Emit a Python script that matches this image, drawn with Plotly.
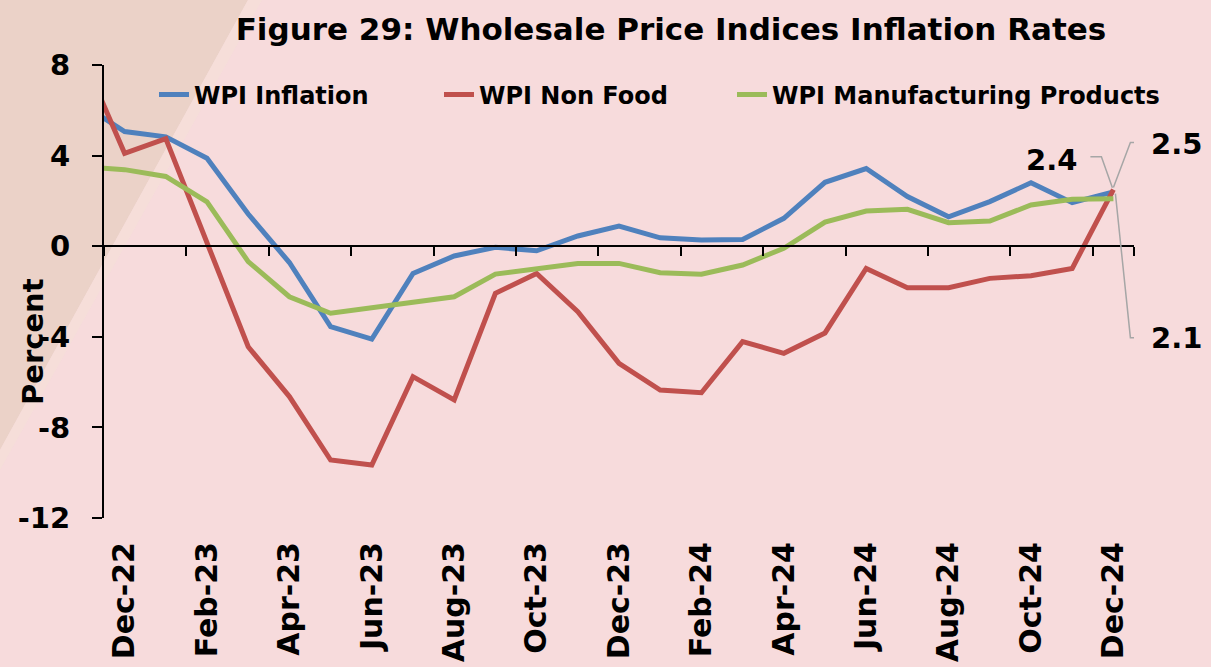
import plotly.graph_objects as go

# ---------------- data ----------------
months = ["Nov-22", "Dec-22", "Jan-23", "Feb-23", "Mar-23", "Apr-23", "May-23", "Jun-23",
          "Jul-23", "Aug-23", "Sep-23", "Oct-23", "Nov-23", "Dec-23", "Jan-24", "Feb-24",
          "Mar-24", "Apr-24", "May-24", "Jun-24", "Jul-24", "Aug-24", "Sep-24", "Oct-24",
          "Nov-24", "Dec-24"]
wpi_inflation = [6.24, 5.06, 4.83, 3.88, 1.42, -0.72, -3.55, -4.1, -1.2, -0.43, -0.05, -0.2,
                 0.45, 0.89, 0.37, 0.27, 0.3, 1.23, 2.82, 3.43, 2.19, 1.3, 1.97, 2.8, 1.92, 2.4]
wpi_nonfood = [8.3, 4.1, 4.75, 0.1, -4.44, -6.64, -9.44, -9.66, -5.76, -6.79, -2.08, -1.2,
               -2.89, -5.17, -6.35, -6.47, -4.21, -4.73, -3.83, -0.98, -1.83, -1.83, -1.42,
               -1.3, -0.98, 2.5]
wpi_manuf = [3.5, 3.38, 3.08, 1.96, -0.68, -2.23, -2.96, -2.7, -2.49, -2.23, -1.23, -1.0,
             -0.76, -0.76, -1.17, -1.24, -0.83, -0.09, 1.06, 1.55, 1.63, 1.04, 1.11, 1.82,
             2.07, 2.1]
tick_labels = months[1::2]          # Dec-22, Feb-23, ... Dec-24
y_ticks = [8, 4, 0, -4, -8, -12]
end_labels = ["2.4", "2.5", "2.1"]

series_names = ["WPI Inflation", "WPI Non Food", "WPI Manufacturing Products"]
series_vals = [wpi_inflation, wpi_nonfood, wpi_manuf]
colors = ["#4F81BD", "#C0504D", "#9BBB59"]
legend_widths = [240, 248, 400]

FONT = "DejaVu Sans"
BG = "#F7DBDC"
TAN = "#EBD2C8"

W, H = 1211, 667
ML, MR, MT, MB = 104, 77, 65, 149
PW, PH = W - ML - MR, H - MT - MB


def px(xp):
    return (xp - ML) / PW


def py(yp):
    return (H - MB - yp) / PH


fig = go.Figure()
for name, vals, col, lw in zip(series_names, series_vals, colors, legend_widths):
    fig.add_trace(go.Scatter(x=months, y=vals, mode="lines", name=name, legendwidth=lw,
                             line=dict(color=col, width=5), hoverinfo="x+y+name"))

# helper trace for the axis that crosses at zero (category ticks on boundaries)
fig.add_trace(go.Scatter(x=months, y=[None] * len(months), xaxis="x2", yaxis="y",
                         mode="lines", showlegend=False, hoverinfo="skip"))

# ---------------- end-point data labels with leader lines ----------------
last = months[-1]
label_specs = [
    # (value, text, path, xanchor, xshift, yshift)
    (wpi_inflation[-1], end_labels[0], "M-1,4 L-12,35 L-23,35", "right", -34, 32),
    (wpi_nonfood[-1], end_labels[1], "M0,2 L17,47 L28,47", "left", 36, 46),
    (wpi_manuf[-1], end_labels[2], "M2,5 L17,-139 L28,-139", "left", 36, -139),
]
shapes = []
annotations = []
for val, txt, path, xa, xs, ys in label_specs:
    shapes.append(dict(type="path", xref="x", yref="y", xsizemode="pixel", ysizemode="pixel",
                       xanchor=last, yanchor=val, path=path,
                       line=dict(color="#A6A6A6", width=1.5)))
    annotations.append(dict(x=last, y=val, xref="x", yref="y", text=txt, showarrow=False,
                            xanchor=xa, yanchor="middle", xshift=xs, yshift=ys,
                            font=dict(family=FONT, size=29, color="black", weight="bold")))

# decorative tan band in the top-left corner
shapes.insert(0, dict(type="path", xref="paper", yref="paper", layer="below",
                      path=f"M{px(0)},{py(0)} L{px(248)},{py(0)} L{px(0)},{py(450)} Z",
                      fillcolor=TAN, line=dict(width=0)))
shapes.insert(1, dict(type="path", xref="paper", yref="paper", layer="below",
                      path=f"M{px(248)},{py(0)} L{px(262)},{py(0)} L{px(0)},{py(470)} L{px(0)},{py(450)} Z",
                      fillcolor="rgba(245,222,216,0.8)", line=dict(width=0)))

# y-axis title (placed like the original, lower than centre)
annotations.append(dict(x=px(33), y=py(342), xref="paper", yref="paper", text="Percent",
                        showarrow=False, textangle=-90, xanchor="center", yanchor="middle",
                        font=dict(family=FONT, size=29, color="black", weight="bold")))

fig.update_layout(
    width=W, height=H,
    margin=dict(l=ML, r=MR, t=MT, b=MB, autoexpand=False),
    paper_bgcolor=BG, plot_bgcolor="rgba(0,0,0,0)",
    font=dict(family=FONT, color="black"),
    title=dict(text="Figure 29: Wholesale Price Indices Inflation Rates",
               x=671 / W, xref="container", xanchor="center",
               y=1 - 29 / H, yref="container", yanchor="middle",
               font=dict(family=FONT, size=31, color="black", weight="bold")),
    showlegend=True,
    legend=dict(orientation="h", x=px(154), xanchor="left", y=py(95), yanchor="middle",
                bgcolor="rgba(0,0,0,0)", font=dict(family=FONT, size=24, color="black", weight="bold"),
                traceorder="normal"),
    xaxis=dict(type="category", categoryorder="array", categoryarray=months,
               range=[0.5, len(months) - 0.5], tickmode="array", tickvals=tick_labels,
               ticktext=tick_labels, tickangle=-90, showline=False, showgrid=False,
               zeroline=False, ticks="", ticklabelstandoff=17, automargin=False,
               tickfont=dict(family=FONT, size=30, color="black", weight="bold")),
    xaxis2=dict(type="category", categoryorder="array", categoryarray=months,
                overlaying="x", anchor="free", position=12 / 20, automargin=False,
                range=[0.5, len(months) - 0.5], tickmode="array", tickvals=tick_labels,
                tickson="boundaries", ticks="outside", ticklen=9, tickwidth=2,
                tickcolor="black", showticklabels=False, showline=True, linecolor="black",
                linewidth=2, showgrid=False, zeroline=False),
    yaxis=dict(range=[-12, 8], tickmode="array", tickvals=y_ticks, automargin=False,
               ticktext=[str(v) for v in y_ticks], showline=True, linecolor="black",
               linewidth=2, ticks="outside", ticklen=10, tickwidth=2, tickcolor="black",
               showgrid=False, zeroline=False, ticklabelstandoff=16,
               tickfont=dict(family=FONT, size=29, color="black", weight="bold")),
    shapes=shapes,
    annotations=annotations,
)

fig.write_html("out.html", config={"displayModeBar": False},
               post_script="document.body.style.margin='0px';document.body.style.overflow='hidden';")
